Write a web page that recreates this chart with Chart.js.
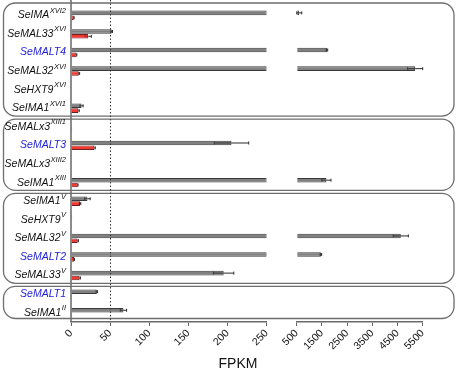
<!DOCTYPE html>
<html><head><meta charset="utf-8">
<script src="https://cdn.jsdelivr.net/npm/chart.js@4/dist/chart.umd.min.js"></script>
<style>html,body{margin:0;padding:0;background:#fff}</style>
</head><body>
<canvas id="c" width="459" height="372"></canvas>
<script>
// ---- data ----
const geneNames = ['SeIMA','SeMAL33','SeMALT4','SeMAL32','SeHXT9','SeIMA1','SeMALx3','SeMALT3','SeMALx3','SeIMA1','SeIMA1','SeHXT9','SeMAL32','SeMALT2','SeMAL33','SeMALT1','SeIMA1'];
const geneLoci  = ['XVI2','XVI','','XVI','XVI','XVI1','XIII1','','XIII2','XIII','V','V','V','','V','','II'];
const transporterFlags = [0,0,1,0,0,0,0,1,0,0,0,0,0,1,0,1,0];
const groupRanges = [[0,5],[6,9],[10,14],[15,16]];
const grayValues = [600, 52, 1700, 5200, 0.5, 13.5, 0.3, 205, 0, 1680, 21, 1.5, 4630, 1460, 195, 33, 67];
const grayErrors = [100, 1, 30, 300, 0, 2, 0, 22, 0, 180, 3.5, 0, 300, 30, 13, 1, 4];
const redValues  = [3.5, 22, 7, 10, 0, 9.5, 1.5, 30, 0, 8.5, 11.5, 0, 8.5, 4, 11, 0.3, 1.5];
const redErrors  = [0.5, 4, 0.5, 1, 0, 1, 0, 1, 0, 0.5, 1, 0, 1, 0.5, 1, 0, 0];
const lowTicks  = [0, 50, 100, 150, 200, 250];
const highTicks = [500, 1500, 2500, 3500, 4500, 5500];
const thresholdLine = 50;
const axisTitle = 'FPKM';

// ---- derived ----
const categories = geneNames.map((g, i) => g + geneLoci[i]);
const lowMax = lowTicks[lowTicks.length - 1];
const highMin = highTicks[0];
const highMax = highTicks[highTicks.length - 1];
const grayLow = grayValues.map(v => Math.min(v, lowMax));
const grayHigh = grayValues.map(v => v > highMin ? v : null);

const FONT = '"Liberation Sans", Arial, sans-serif';

const decorPlugin = {
  id: 'decor',
  beforeDatasetsDraw(chart) {
    const {ctx, scales: {y}} = chart;
    const band = y.getPixelForValue(1) - y.getPixelForValue(0);
    ctx.save();
    ctx.strokeStyle = '#6e6e6e';
    ctx.lineWidth = 1.3;
    groupRanges.forEach((g, k) => {
      let top = y.getPixelForValue(g[0]) - band / 2 + 1.5;
      let bottom = y.getPixelForValue(g[1]) + band / 2 - 1.5;
      if (k === 0) top -= 4.5;
      if (k === groupRanges.length - 1) bottom -= 2;
      const left = 3.5, right = 454, r = 12;
      ctx.beginPath();
      ctx.roundRect(left, top, right - left, bottom - top, r);
      ctx.stroke();
    });
    ctx.restore();
  },
  afterDatasetsDraw(chart) {
    const {ctx, chartArea, scales: {y, xLow, xHigh}} = chart;
    const drawErr = (meta, values, errors, innerColor) => {
      values.forEach((v, i) => {
        const e = errors[i];
        if (!e || v == null) return;
        const yc = meta.data[i].y;
        const sc = v > highMin ? xHigh : xLow;
        const lo = v > highMin ? highMin : 0;
        const x1 = sc.getPixelForValue(Math.max(v - e, lo));
        const xv = sc.getPixelForValue(v);
        const x2 = sc.getPixelForValue(v + e);
        ctx.strokeStyle = innerColor;
        ctx.beginPath();
        ctx.moveTo(x1, yc); ctx.lineTo(xv, yc);
        ctx.moveTo(x1, yc - 1.5); ctx.lineTo(x1, yc + 1.5);
        ctx.stroke();
        ctx.strokeStyle = '#2a2a2a';
        ctx.beginPath();
        ctx.moveTo(xv, yc); ctx.lineTo(x2, yc);
        ctx.moveTo(x2, yc - 1.5); ctx.lineTo(x2, yc + 1.5);
        ctx.stroke();
      });
    };
    ctx.save();
    ctx.lineWidth = 1;
    drawErr(chart.getDatasetMeta(0), grayValues, grayErrors, '#3a3a3a');
    drawErr(chart.getDatasetMeta(1), redValues, redErrors, 'rgba(90,20,20,0.35)');
    // vertical axis line at 0
    const x0 = xLow.getPixelForValue(0);
    ctx.strokeStyle = '#707070';
    ctx.lineWidth = 1.6;
    ctx.beginPath(); ctx.moveTo(x0, 0); ctx.lineTo(x0, chartArea.bottom); ctx.stroke();
    // dotted threshold line
    const xt = Math.round(xLow.getPixelForValue(thresholdLine)) + 0.5;
    ctx.strokeStyle = '#333';
    ctx.lineWidth = 1;
    ctx.setLineDash([1.5, 2]);
    ctx.beginPath(); ctx.moveTo(xt, 0); ctx.lineTo(xt, chartArea.bottom); ctx.stroke();
    ctx.restore();
  },
  afterDraw(chart) {
    const {ctx, scales: {y}} = chart;
    ctx.save();
    const rightX = 66;
    const mainFont = 'italic 10.5px ' + FONT;
    const supFont = 'italic 7.5px ' + FONT;
    categories.forEach((c, i) => {
      const yc = y.getPixelForValue(i);
      ctx.font = supFont;
      const supW = geneLoci[i] ? ctx.measureText(geneLoci[i]).width + 0.5 : 0;
      ctx.font = mainFont;
      const mainW = ctx.measureText(geneNames[i]).width;
      ctx.fillStyle = transporterFlags[i] ? '#1c1cd6' : '#111';
      ctx.textAlign = 'left';
      ctx.textBaseline = 'middle';
      const xs = rightX - supW - mainW;
      ctx.fillText(geneNames[i], xs, yc);
      if (geneLoci[i]) {
        ctx.font = supFont;
        ctx.fillText(geneLoci[i], xs + mainW + 0.5, yc - 4.5);
      }
    });
    ctx.font = '14px ' + FONT;
    ctx.fillStyle = '#111';
    ctx.textAlign = 'center';
    ctx.textBaseline = 'alphabetic';
    ctx.fillText(axisTitle, 238, 368);
    ctx.restore();
  }
};

const tickOpts = {autoSkip: false, minRotation: 45, maxRotation: 45, padding: 1, color: '#111',
  font: {family: FONT, size: 10.5}, callback: v => String(v)};
const gridOpts = {display: true, drawOnChartArea: false, drawTicks: true, tickLength: 4, color: '#666', lineWidth: 1};
const borderOpts = {display: true, color: '#6a6a6a', width: 1.5};
const fixH = s => { s.height = 50; };

new Chart(document.getElementById('c'), {
  type: 'bar',
  data: {
    labels: categories,
    datasets: [
      {data: grayLow, xAxisID: 'xLow', stack: 'g', backgroundColor: '#808080', borderColor: '#3a3a3a', borderWidth: 1},
      {data: redValues, xAxisID: 'xLow', stack: 'r', backgroundColor: '#f5372e', borderColor: '#6a2020', borderWidth: 1},
      {data: grayHigh, xAxisID: 'xHigh', stack: 'g', base: highMin, backgroundColor: '#808080', borderColor: '#3a3a3a', borderWidth: 1}
    ]
  },
  options: {
    indexAxis: 'y',
    responsive: false,
    animation: false,
    datasets: {bar: {categoryPercentage: 0.52, barPercentage: 0.95, borderSkipped: 'start'}},
    layout: {padding: {left: 71, top: 6, right: 36.3, bottom: 0}, autoPadding: false},
    plugins: {legend: {display: false}, tooltip: {enabled: false}, title: {display: false}},
    scales: {
      y: {type: 'category', display: false},
      xLow: {type: 'linear', position: 'bottom', stack: 'x', stackWeight: 195.7, weight: 1,
        min: 0, max: lowMax, afterBuildTicks: s => { s.ticks = lowTicks.map(v => ({value: v})); },
        afterFit: fixH, grid: gridOpts, border: borderOpts, ticks: tickOpts},
      xGap: {type: 'linear', position: 'bottom', stack: 'x', stackWeight: 30, weight: 2,
        min: 0, max: 1, afterFit: fixH, grid: {display: false}, border: {display: false}, ticks: {display: false}},
      xHigh: {type: 'linear', position: 'bottom', stack: 'x', stackWeight: 126, weight: 3,
        min: highMin, max: highMax, afterBuildTicks: s => { s.ticks = highTicks.map(v => ({value: v})); },
        afterFit: fixH, grid: gridOpts, border: borderOpts, ticks: tickOpts}
    }
  },
  plugins: [decorPlugin]
});
</script>
</body></html>
